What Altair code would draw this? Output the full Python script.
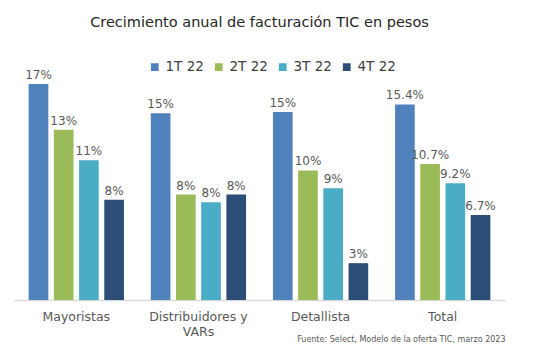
import altair as alt
import pandas as pd

categories = ["Mayoristas", "Distribuidores y VARs", "Detallista", "Total"]
series = ["1T 22", "2T 22", "3T 22", "4T 22"]
values = {
    "1T 22": [17.0, 14.7, 14.8, 15.4],
    "2T 22": [13.4, 8.3, 10.2, 10.7],
    "3T 22": [11.0, 7.7, 8.8, 9.2],
    "4T 22": [7.9, 8.3, 2.9, 6.7],
}
labels = {
    "1T 22": ["17%", "15%", "15%", "15.4%"],
    "2T 22": ["13%", "8%", "10%", "10.7%"],
    "3T 22": ["11%", "8%", "9%", "9.2%"],
    "4T 22": ["8%", "8%", "3%", "6.7%"],
}
colors = ["#4F81BD", "#9BBB59", "#4BACC6", "#2C4D75"]

rows = []
for s in series:
    for c, v, l in zip(categories, values[s], labels[s]):
        rows.append({"cat": c, "serie": s, "val": v, "lab": l})
df = pd.DataFrame(rows)

FONT = "DejaVu Sans"

x = alt.X("cat:N", sort=categories,
          scale=alt.Scale(paddingInner=0.22, paddingOuter=0.12),
          axis=alt.Axis(title="Fuente: Select, Modelo de la oferta TIC, marzo 2023",
                        titleAnchor="end", titleFontSize=8, titleFontWeight="normal",
                        titleColor="#595959", titleFont=FONT,
                        titleY=39, titleBaseline="middle",
                        labelAngle=0, labelFont=FONT, labelFontSize=12.5,
                        labelColor="#595959", labelPadding=10, ticks=False,
                        domainColor="#D9D9D9", domainWidth=1.5,
                        labelLineHeight=15,
                        labelExpr="datum.value == 'Distribuidores y VARs' ? ['Distribuidores y', 'VARs'] : datum.label"))
xo = alt.XOffset("serie:N", sort=series, scale=alt.Scale(paddingInner=0.22, paddingOuter=0.0))
y = alt.Y("val:Q", scale=alt.Scale(domain=[0, 20]), axis=None)

base = alt.Chart(df)
bars = base.mark_bar().encode(
    x=x, xOffset=xo, y=y,
    color=alt.Color("serie:N", sort=series,
                    scale=alt.Scale(domain=series, range=colors),
                    legend=alt.Legend(title=None, orient="none", direction="horizontal",
                                      legendX=134, legendY=14, symbolType="square",
                                      symbolSize=60, symbolStrokeWidth=0,
                                      labelFont=FONT, labelFontSize=13.5,
                                      labelColor="#404040", columnPadding=8,
                                      labelOffset=4)),
)
text = base.mark_text(dy=-9, font=FONT, fontSize=12, color="#595959").encode(
    x=x, xOffset=xo, y=y, text="lab:N"
)

chart = (bars + text).properties(
    width=491, height=254,
    title=alt.TitleParams("Crecimiento anual de facturación TIC en pesos",
                          font=FONT, fontSize=14.5, fontWeight="normal",
                          color="#262626", anchor="middle", offset=16),
    autosize=alt.AutoSizeParams(type="none"),
    padding={"left": 6, "top": 38, "right": 47, "bottom": 55},
).configure_view(stroke=None)

chart.save("out.html", embed_options={"renderer": "svg", "actions": False})
